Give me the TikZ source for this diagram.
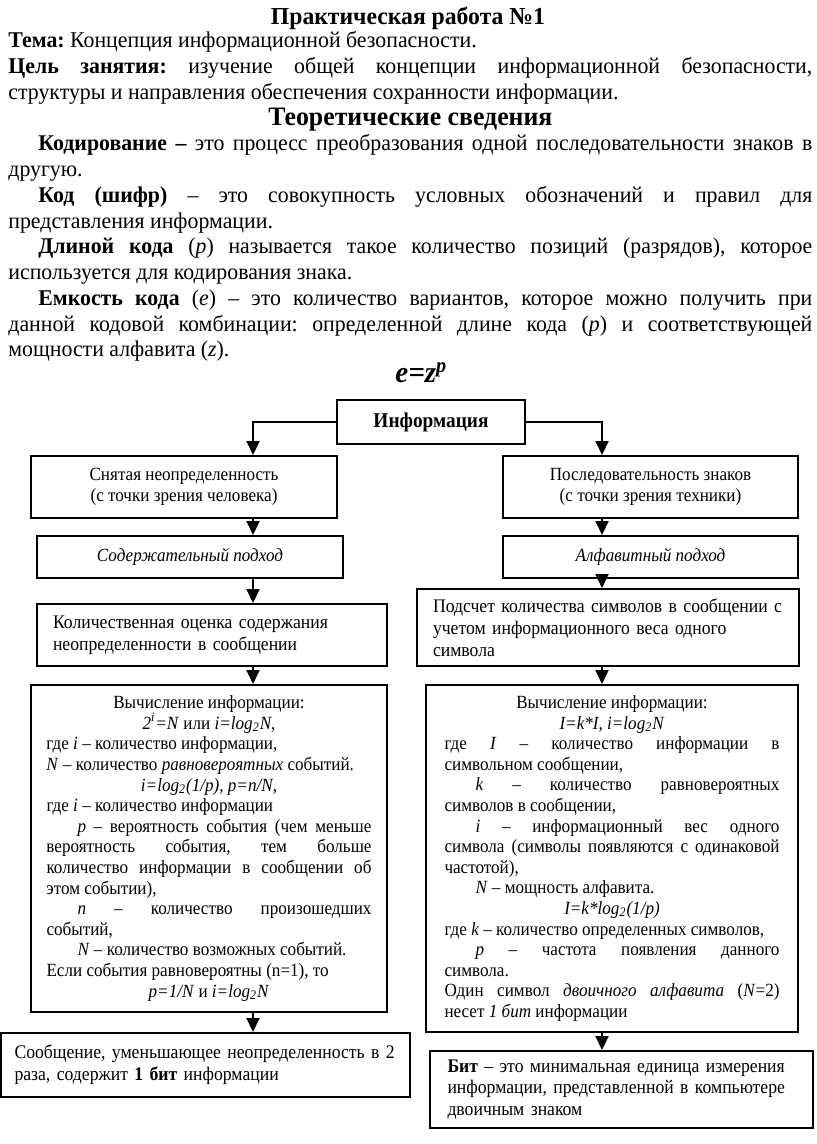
\documentclass[tikz,border=0pt]{standalone}
\usepackage{fontspec}
\setmainfont{Liberation Serif}[FakeStretch=0.97]
\newfontfamily\uzk{Liberation Serif}[FakeStretch=0.92]
\usetikzlibrary{arrows.meta}
\newlength\otst \setlength\otst{15.5pt}
\hyphenpenalty=10000 \exhyphenpenalty=10000
\frenchspacing

\begin{document}
\begin{tikzpicture}[x=0.5pt,y=-0.5pt,
        box/.style={draw,line width=1pt,inner sep=0pt,font=\uzk\fontsize{9.3}{10.3}\selectfont},
        boxbig/.style={box,font=\uzk\fontsize{9.6}{10.9}\selectfont},
        arr/.style={line width=1pt,-{Triangle[width=6.5pt,length=7pt]}}]
        \useasboundingbox (0,0) rectangle (816,1144);
        % Header and theory text
        \node[anchor=base,font=\fontsize{12.2}{15}\selectfont\bfseries] (zagolovok) at (408,25) {Практическая работа №1};
        \node[anchor=base west,inner sep=0pt,text width=402pt,align=justify,font=\fontsize{11.25}{12.875}\selectfont] (teoria) at (8,48) {%
            \textbf{Тема:} Концепция информационной безопасности.\par
            \textbf{Цель занятия:} изучение общей концепции информационной безопасности,\linebreak
            структуры и направления обеспечения сохранности информации.\par
            {\centering\fontsize{13.3}{12.875}\selectfont\textbf{Теоретические сведения}\par}
            \hspace*{15pt}\textbf{Кодирование –} это процесс преобразования одной последовательности знаков в\linebreak
            другую.\par
            \hspace*{15pt}\textbf{Код (шифр)} – это совокупность условных обозначений и правил для\linebreak
            представления информации.\par
            \hspace*{15pt}\textbf{Длиной кода} (\textit{p}) называется такое количество позиций (разрядов), которое\linebreak
            используется для кодирования знака.\par
            \hspace*{15pt}\textbf{Емкость кода} (\textit{e}) – это количество вариантов, которое можно получить при\linebreak
            данной кодовой комбинации: определенной длине кода (\textit{p}) и соответствующей\linebreak
            мощности алфавита (\textit{z}).\par
            {\centering\fontsize{15}{12.875}\selectfont\hspace*{11pt}\textbf{\textit{e=z\textsuperscript{p}}}\par}};
        % Column lines
        \coordinate (lcol) at (253,0);
        \coordinate (rcol) at (602,0);
        % Boxes
        \node[box,minimum width=94pt,minimum height=22pt,font=\uzk\fontsize{10.5}{12}\selectfont\bfseries] (info) at (431,422) {Информация};
        \node[box,minimum width=153pt,minimum height=31pt,align=center] (snyat) at (184,487) {Снятая неопределенность\\(с точки зрения человека)};
        \node[box,minimum width=147.5pt,minimum height=31pt,align=center] (posl) at (650.5,487) {Последовательность знаков\\(с точки зрения техники)};
        \node[box,minimum width=153pt,minimum height=21pt,font=\uzk\fontsize{9.3}{10.3}\selectfont\itshape] (sod) at (190,557) {Содержательный подход};
        \node[box,minimum width=147.5pt,minimum height=21pt,font=\uzk\fontsize{9.3}{10.3}\selectfont\itshape] (alf) at (650.5,557) {Алфавитный подход};
        \node[boxbig,minimum width=175pt,minimum height=31pt,text width=159pt,align=left] (kolic) at (212,635) {Количественная оценка содержания\\неопределенности в сообщении};
        \node[boxbig,minimum width=191pt,minimum height=38.5pt,text width=175pt,align=left] (podsch) at (608,627.5) {Подсчет количества символов в сообщении с\\учетом информационного веса одного\\символа};
        \node[box,minimum width=178pt,minimum height=163.5pt,text width=162.5pt,align=justify] (vych1) at (209,848.5) {%
            {\centering Вычисление информации:\par
            \textit{2\textsuperscript{i}=N} или \textit{i=log\textsubscript{2}N},\par}
            где \textit{i} – количество информации,\newline
            \textit{N} – количество \textit{равновероятных} событий.\par
            {\centering\textit{i=log\textsubscript{2}(1/p), p=n/N,}\par}
            где \textit{i} – количество информации\newline
            \hspace*{\otst}\textit{p} – вероятность события (чем меньше\linebreak
            вероятность события, тем больше\linebreak
            количество информации в сообщении об\linebreak
            этом событии),\newline
            \hspace*{\otst}\textit{n} – количество произошедших\linebreak
            событий,\newline
            \hspace*{\otst}\textit{N} – количество возможных событий.\newline
            Если события равновероятны (n=1), то\par
            {\centering\textit{p=1/N} и \textit{i=log\textsubscript{2}N}\par}};
        \node[box,minimum width=186pt,minimum height=173.5pt,text width=167.5pt,align=justify] (vych2) at (612,858.5) {%
            {\centering Вычисление информации:\par
            \textit{I=k*I, i=log\textsubscript{2}N}\par}
            где \textit{I} – количество информации в\linebreak
            символьном сообщении,\newline
            \hspace*{\otst}\textit{k} – количество равновероятных\linebreak
            символов в сообщении,\newline
            \hspace*{\otst}\textit{i} – информационный вес одного\linebreak
            символа (символы появляются с одинаковой\linebreak
            частотой),\newline
            \hspace*{\otst}\textit{N} – мощность алфавита.\par
            {\centering\textit{I=k*log\textsubscript{2}(1/p)}\par}
            где \textit{k} – количество определенных символов,\newline
            \hspace*{\otst}\textit{p} – частота появления данного\linebreak
            символа.\newline
            Один символ \textit{двоичного алфавита} (\textit{N}=2)\linebreak
            несет \textit{1 бит} информации\par};
        \node[boxbig,minimum width=204.5pt,minimum height=32pt,text width=191pt,align=left] (soob) at (205.5,1065) {Сообщение, уменьшающее неопределенность в 2\\раза, содержит \textbf{1 бит} информации};
        \node[boxbig,minimum width=191.5pt,minimum height=38.5pt,text width=174pt,align=left] (bit) at (621.5,1089.5) {\textbf{Бит} – это минимальная единица измерения\\информации, представленной в компьютере\\двоичным знаком};
        % Connectors
        \draw[arr] (info.west) -| (lcol |- snyat.north);
        \draw[arr] (info.east) -| (rcol |- posl.north);
        \draw[arr] (lcol |- snyat.south) -- (lcol |- sod.north);
        \draw[arr] (lcol |- sod.south) -- (lcol |- kolic.north);
        \draw[arr] (lcol |- kolic.south) -- (lcol |- vych1.north);
        \draw[arr] (lcol |- vych1.south) -- (lcol |- soob.north);
        \draw[arr] (rcol |- posl.south) -- (rcol |- alf.north);
        \draw[arr] (rcol |- alf.south) -- (rcol |- podsch.north);
        \draw[arr] (rcol |- podsch.south) -- (rcol |- vych2.north);
        \draw[arr] (rcol |- vych2.south) -- (rcol |- bit.north);
\end{tikzpicture}
\end{document}
